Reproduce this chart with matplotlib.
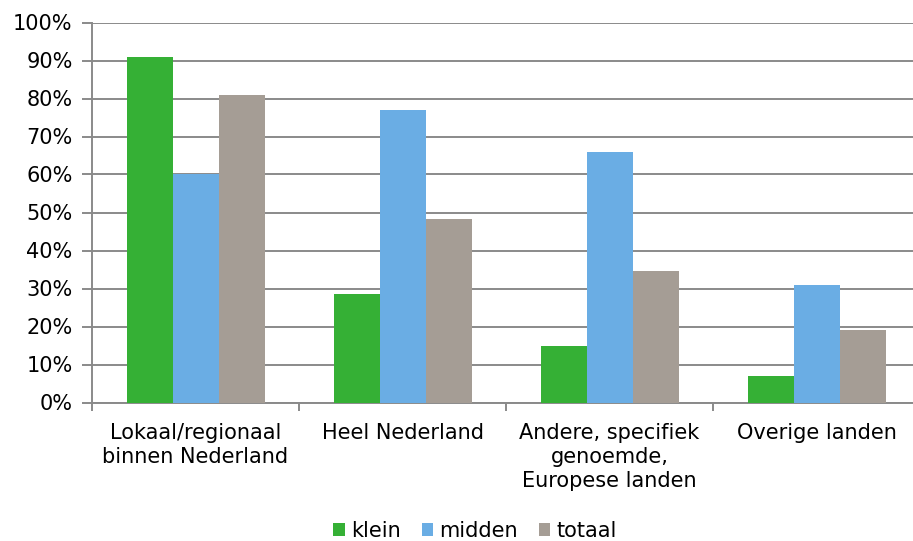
import matplotlib
matplotlib.use("Agg")
import matplotlib.pyplot as plt
import numpy as np
from matplotlib.patches import Patch

categories = ["Lokaal/regionaal\nbinnen Nederland", "Heel Nederland",
              "Andere, specifiek\ngenoemde,\nEuropese landen", "Overige landen"]
series_names = ["klein", "midden", "totaal"]
klein = [91, 28.5, 15, 7]
midden = [60, 77, 65.8, 31]
totaal = [81, 48.4, 34.5, 19.2]
colors = ["#35B035", "#6AADE4", "#A59D95"]
yticks = list(range(0, 101, 10))

W, H = 913, 541
fig = plt.figure(figsize=(W / 100, H / 100), dpi=100)
left, right, top, bottom = 92, 920, 22.5, 402.5
ax = fig.add_axes([left / W, 1 - bottom / H, (right - left) / W, (bottom - top) / H])

x = np.arange(len(categories))
bw = 1 / 4.5
for i, (vals, c) in enumerate(zip([klein, midden, totaal], colors)):
    ax.bar(x + (i - 1) * bw, vals, width=bw, color=c, zorder=3, linewidth=0)

ax.set_xlim(-0.5, len(categories) - 0.5)
ax.set_ylim(0, 100)
ax.set_yticks(yticks)
ax.set_yticklabels([f"{v}%" for v in yticks])
ax.yaxis.grid(True, color="#8A8A8A", linewidth=1.4, zorder=0)
ax.set_axisbelow(True)

ax.set_xticks(x)
ax.set_xticklabels(categories, linespacing=1.25)
ax.set_xticks(np.arange(-0.5, len(categories)), minor=True)
ax.tick_params(axis="x", which="major", length=0, pad=15, labelsize=15, colors="#000000")
ax.tick_params(axis="x", which="minor", length=6, width=1.4, color="#8A8A8A")
ax.tick_params(axis="y", length=7, width=1.4, color="#8A8A8A", labelsize=15, pad=7)

for s in ["top", "right"]:
    ax.spines[s].set_visible(False)
ax.spines["left"].set_color("#8A8A8A")
ax.spines["left"].set_linewidth(1.4)
ax.spines["bottom"].set_color("#8A8A8A")
ax.spines["bottom"].set_linewidth(1.4)

handles = [Patch(facecolor=c, edgecolor="none") for c in colors]
fig.legend(handles, series_names, loc="center", bbox_to_anchor=(475 / W, 1 - 531 / H),
           ncol=3, frameon=False, fontsize=15, handlelength=0.55, handleheight=0.55,
           handletextpad=0.3, columnspacing=1.0)

fig.savefig("out.png", dpi=100)
